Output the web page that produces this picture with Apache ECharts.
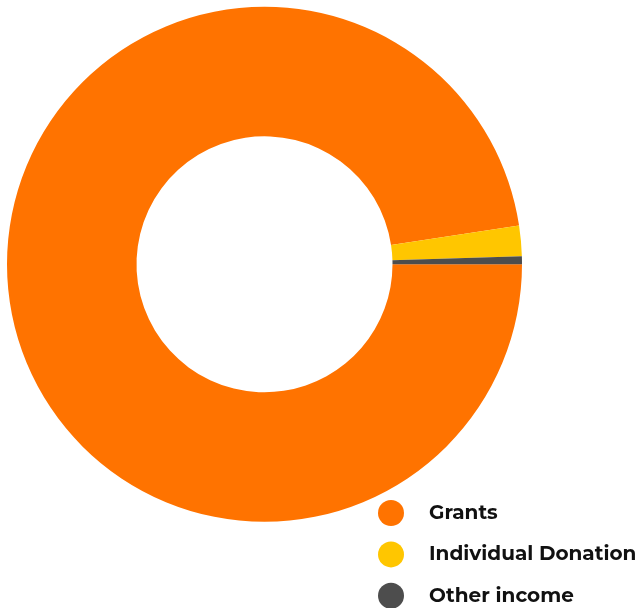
<!DOCTYPE html>
<html><head><meta charset="utf-8">
<script src="https://cdn.jsdelivr.net/npm/echarts@6/dist/echarts.min.js"></script>
<style>html,body{margin:0;padding:0;background:#fff}#c{width:640px;height:608px}</style>
</head><body><div id="c"></div>
<script>
const categories = ['Grants', 'Individual Donation', 'Other income'];
const values = [97.6, 1.9, 0.5];
const colors = ['#FF7300', '#FFC600', '#4D4D4D'];
const chart = echarts.init(document.getElementById('c'));
chart.setOption({
  animation: false,
  color: colors,
  legend: {
    orient: 'vertical', left: 378, top: 500, height: 200, padding: 0,
    icon: 'circle', itemWidth: 26, itemHeight: 26, itemGap: 15.4,
    textStyle: { fontFamily: 'Montserrat, Lato, sans-serif', fontWeight: 'bold', fontSize: 20, color: '#111', padding: [0, 0, 0, 20] },
    data: categories
  },
  series: [{
    type: 'pie', center: [264.5, 264.3], radius: [128, 257.5], startAngle: 0,
    label: { show: false }, labelLine: { show: false }, silent: true,
    data: categories.map((n, i) => ({ name: n, value: values[i] }))
  }]
});
</script></body></html>
